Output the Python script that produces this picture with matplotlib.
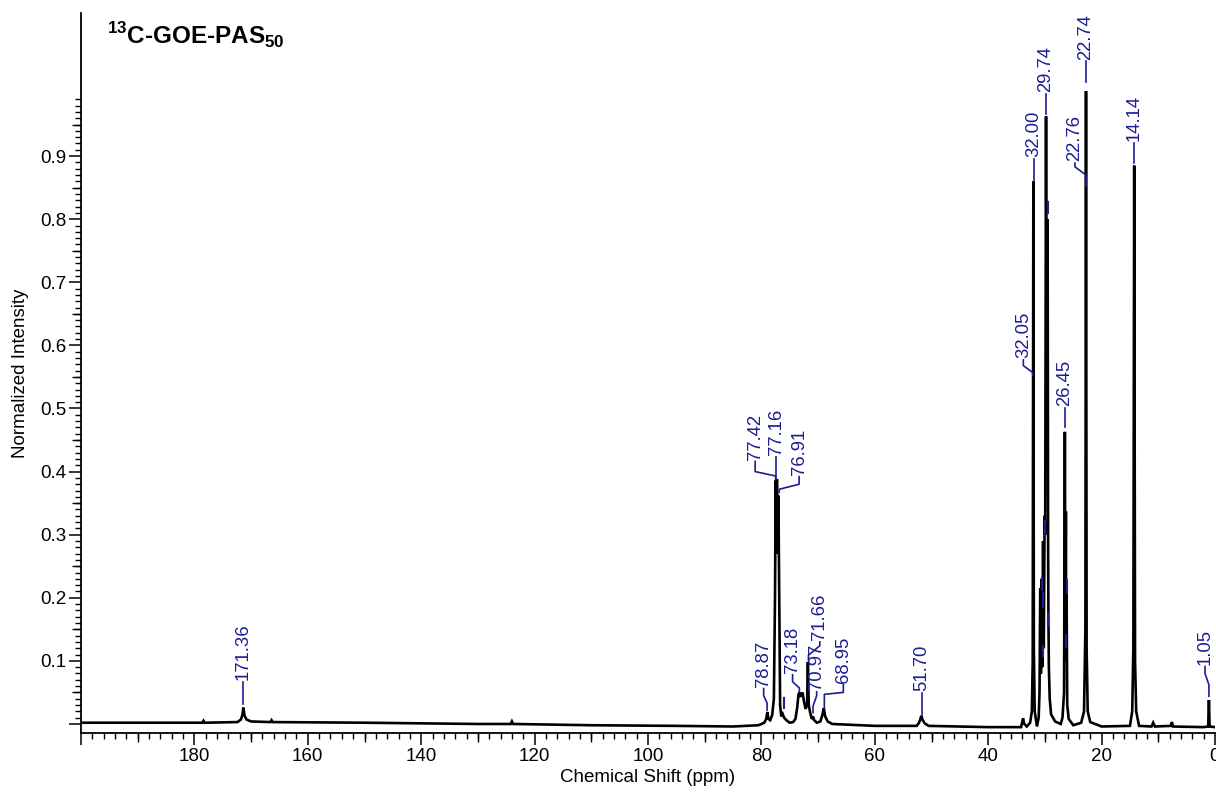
import numpy as np
import matplotlib
matplotlib.use("Agg")
import matplotlib.pyplot as plt
from matplotlib.ticker import FixedLocator, NullFormatter, FuncFormatter

plt.rcParams["font.family"] = ["Liberation Sans", "DejaVu Sans"]
plt.rcParams["mathtext.fontset"] = "custom"
plt.rcParams["mathtext.rm"] = "Liberation Sans"
plt.rcParams["mathtext.bf"] = "Liberation Sans:bold"

# ---------------- spectrum (ppm, normalized intensity)
shift_ppm = [
    200.0, 185.0, 178.6, 178.4, 178.2, 172.4, 171.8, 171.55, 171.36, 171.15,
    170.8, 170.0, 166.6, 166.4, 166.2, 150.0, 130.0, 124.2, 124.0, 123.8,
    110.0, 95.0, 85.0, 80.5, 79.5, 79.15, 78.95, 78.75, 78.45, 78.1,
    77.8, 77.6, 77.48, 77.36, 77.26, 77.12, 77.0, 76.85, 76.7, 76.5,
    76.25, 76.0, 75.6, 75.0, 74.4, 74.0, 73.7, 73.45, 73.3, 73.1,
    72.95, 72.75, 72.5, 72.2, 71.95, 71.8, 71.65, 71.4, 71.1, 70.9,
    70.7, 70.2, 69.6, 69.25, 69.0, 68.75, 68.3, 67.5, 60.0, 52.6,
    52.2, 51.95, 51.8, 51.6, 51.2, 50.5, 40.0, 34.2, 34.0, 33.85,
    33.7, 33.2, 32.6, 32.3, 32.15, 32.04, 31.95, 31.8, 31.4, 31.1,
    30.95, 30.82, 30.7, 30.58, 30.47, 30.32, 30.2, 30.05, 29.95, 29.8,
    29.68, 29.52, 29.44, 29.38, 29.3, 29.15, 28.9, 28.2, 27.2, 26.9,
    26.62, 26.48, 26.38, 26.3, 26.24, 26.18, 26.06, 25.8, 25.0, 23.6,
    23.1, 22.86, 22.75, 22.64, 22.45, 22.0, 20.0, 15.0, 14.6, 14.4,
    14.25, 14.1, 13.9, 13.4, 11.2, 10.9, 10.6, 7.8, 7.6, 7.4,
    2.0, 1.2, 1.07, 0.95, 0.0,
]
intensity = [
    0.002, 0.002, 0.002, 0.005, 0.002, 0.003, 0.007, 0.014, 0.026, 0.013,
    0.007, 0.004, 0.003, 0.006, 0.003, 0.002, 0.000, 0.000, 0.004, 0.000,
    -0.002, -0.003, -0.004, -0.002, 0.002, 0.008, 0.019, 0.008, 0.006, 0.014,
    0.040, 0.200, 0.386, 0.280, 0.388, 0.270, 0.362, 0.200, 0.030, 0.012,
    0.016, 0.010, 0.006, 0.002, 0.003, 0.008, 0.025, 0.047, 0.050, 0.043,
    0.046, 0.050, 0.036, 0.024, 0.030, 0.098, 0.030, 0.018, 0.008, 0.012,
    0.006, 0.002, 0.004, 0.014, 0.025, 0.012, 0.004, 0.000, -0.003, -0.003,
    0.002, 0.008, 0.013, 0.007, 0.001, -0.003, -0.005, -0.005, 0.003, 0.009,
    0.001, -0.004, 0.002, 0.020, 0.100, 0.860, 0.120, 0.020, -0.004, 0.010,
    0.050, 0.215, 0.080, 0.230, 0.090, 0.290, 0.120, 0.330, 0.300, 0.963,
    0.500, 0.800, 0.300, 0.170, 0.090, 0.040, 0.015, 0.004, 0.000, 0.010,
    0.050, 0.463, 0.120, 0.337, 0.100, 0.210, 0.030, 0.008, -0.002, 0.002,
    0.020, 0.150, 1.003, 0.120, 0.020, 0.003, -0.004, -0.003, 0.020, 0.120,
    0.885, 0.100, 0.020, -0.003, -0.004, 0.002, -0.004, -0.003, 0.003, -0.004,
    -0.005, -0.004, 0.038, -0.004, -0.005,
]

# ---------------- peak labels
label_text = ["171.36", "78.87", "77.42", "77.16", "76.91", "73.18", "71.66",
              "70.97", "68.95", "51.70", "32.05", "32.00", "29.74", "22.76",
              "22.74", "14.14", "26.45", "1.05"]
label_text_ppm = [171.36, 79.6, 81.1, 77.35, 73.35, 74.5, 69.7,
                  70.25, 65.55, 51.7, 33.8, 32.0, 29.8, 24.7,
                  22.75, 14.25, 26.45, 1.76]
label_text_y = [0.066, 0.056, 0.416, 0.423, 0.392, 0.078, 0.130,
                0.051, 0.062, 0.049, 0.577, 0.895, 0.998, 0.889,
                1.050, 0.921, 0.501, 0.091]
label_peak_ppm = [171.36, 79.0, 77.5, 77.35, 76.85, 73.3, 71.7,
                  70.9, 68.9, 51.7, 32.15, 32.0, 29.8, 22.75,
                  22.75, 14.25, 26.45, 1.07]
label_peak_y = [0.031, 0.022, 0.388, 0.388, 0.367, 0.051, 0.100,
                0.018, 0.026, 0.014, 0.553, 0.862, 0.966, 0.853,
                1.018, 0.889, 0.470, 0.044]
label_elbow_peak_y = [0.05, 0.033, 0.393, 0.40, 0.372, 0.057, 0.109,
                      0.028, 0.047, 0.03, 0.557, 0.88, 0.98, 0.870,
                      1.03, 0.90, 0.48, 0.062]
label_elbow_text_y = [0.05, 0.045, 0.400, 0.40, 0.380, 0.067, 0.124,
                      0.045, 0.050, 0.03, 0.568, 0.88, 0.98, 0.883,
                      1.03, 0.90, 0.48, 0.080]

# ---------------- small unlabeled peak markers
marker_ppm = [76.1, 30.57, 30.28, 30.0, 29.45, 29.4, 30.28, 26.15, 26.25]
marker_lo = [0.025, 0.212, 0.186, 0.300, 0.810, 0.155, 0.107, 0.208, 0.122]
marker_hi = [0.041, 0.232, 0.208, 0.322, 0.828, 0.176, 0.124, 0.228, 0.141]

# ---------------- ticks
x_major = [0, 20, 40, 60, 80, 100, 120, 140, 160, 180, 200]
x_medium = [10, 30, 50, 70, 90, 110, 130, 150, 170, 190]
x_minor = list(range(0, 201, 2))
y_major = [0.0, 0.1, 0.2, 0.3, 0.4, 0.5, 0.6, 0.7, 0.8, 0.9]
y_medium = [0.05, 0.15, 0.25, 0.35, 0.45, 0.55, 0.65, 0.75, 0.85, 0.95]
y_minor = [i / 100 for i in range(1, 100)]

title = r"$^{\mathbf{13}}$C-GOE-PAS$_{\mathbf{50}}$"
blue = "#1c1c94"

fig = plt.figure(figsize=(12.16, 7.98), dpi=100)
ax = fig.add_axes([81 / 1216, 65 / 798, 1134 / 1216, 720 / 798])

ax.plot(shift_ppm, intensity, color="black", lw=1.9, zorder=3,
        solid_joinstyle="miter")

for i, lab in enumerate(label_text):
    xs = [label_peak_ppm[i], label_peak_ppm[i], label_text_ppm[i], label_text_ppm[i]]
    ys = [label_peak_y[i], label_elbow_peak_y[i], label_elbow_text_y[i], label_text_y[i]]
    ax.plot(xs, ys, color=blue, lw=1.2, zorder=4, solid_joinstyle="round")
    ax.text(label_text_ppm[i], label_text_y[i] + 0.003, lab, rotation=90,
            ha="center", va="bottom", color=blue, fontsize=13.3, zorder=5)

for p, lo, hi in zip(marker_ppm, marker_lo, marker_hi):
    ax.plot([p, p], [lo, hi], color=blue, lw=1.5, zorder=4)

ax.set_xlim(200, 0)
ax.set_ylim(-0.0143, 1.1268)

for s in ["top", "right"]:
    ax.spines[s].set_visible(False)
for s in ["left", "bottom"]:
    ax.spines[s].set_linewidth(1.3)

ax.xaxis.set_major_locator(FixedLocator(x_major))
ax.xaxis.set_minor_locator(FixedLocator(x_minor))
ax.xaxis.set_major_formatter(FuncFormatter(lambda v, p: "" if v >= 200 else f"{v:.0f}"))
ax.yaxis.set_major_locator(FixedLocator(y_major))
ax.yaxis.set_minor_locator(FixedLocator(y_minor))
ax.yaxis.set_major_formatter(FuncFormatter(lambda v, p: "" if v == 0 else f"{v:.1f}"))

ax.tick_params(axis="both", which="major", direction="out", length=8.5, width=1.1,
               labelsize=13.5, pad=2)
ax.tick_params(axis="both", which="minor", direction="out", length=4.2, width=1.0)

secx = ax.secondary_xaxis("bottom")
secx.xaxis.set_major_locator(FixedLocator(x_medium))
secx.xaxis.set_major_formatter(NullFormatter())
secx.tick_params(direction="out", length=6.5, width=1.0)
secx.spines["bottom"].set_visible(False)

secy = ax.secondary_yaxis("left")
secy.yaxis.set_major_locator(FixedLocator(y_medium))
secy.yaxis.set_major_formatter(NullFormatter())
secy.tick_params(direction="out", length=6.5, width=1.0)
secy.spines["left"].set_visible(False)

ax.set_xlabel("Chemical Shift (ppm)", fontsize=13.5, labelpad=3)
ax.set_ylabel("Normalized Intensity", fontsize=13.5, labelpad=8)

ax.text(107 / 1216, 1 - 45 / 798, title, transform=fig.transFigure,
        fontsize=17.5, fontweight="bold", ha="left", va="baseline")

fig.savefig("out.png", dpi=100)
